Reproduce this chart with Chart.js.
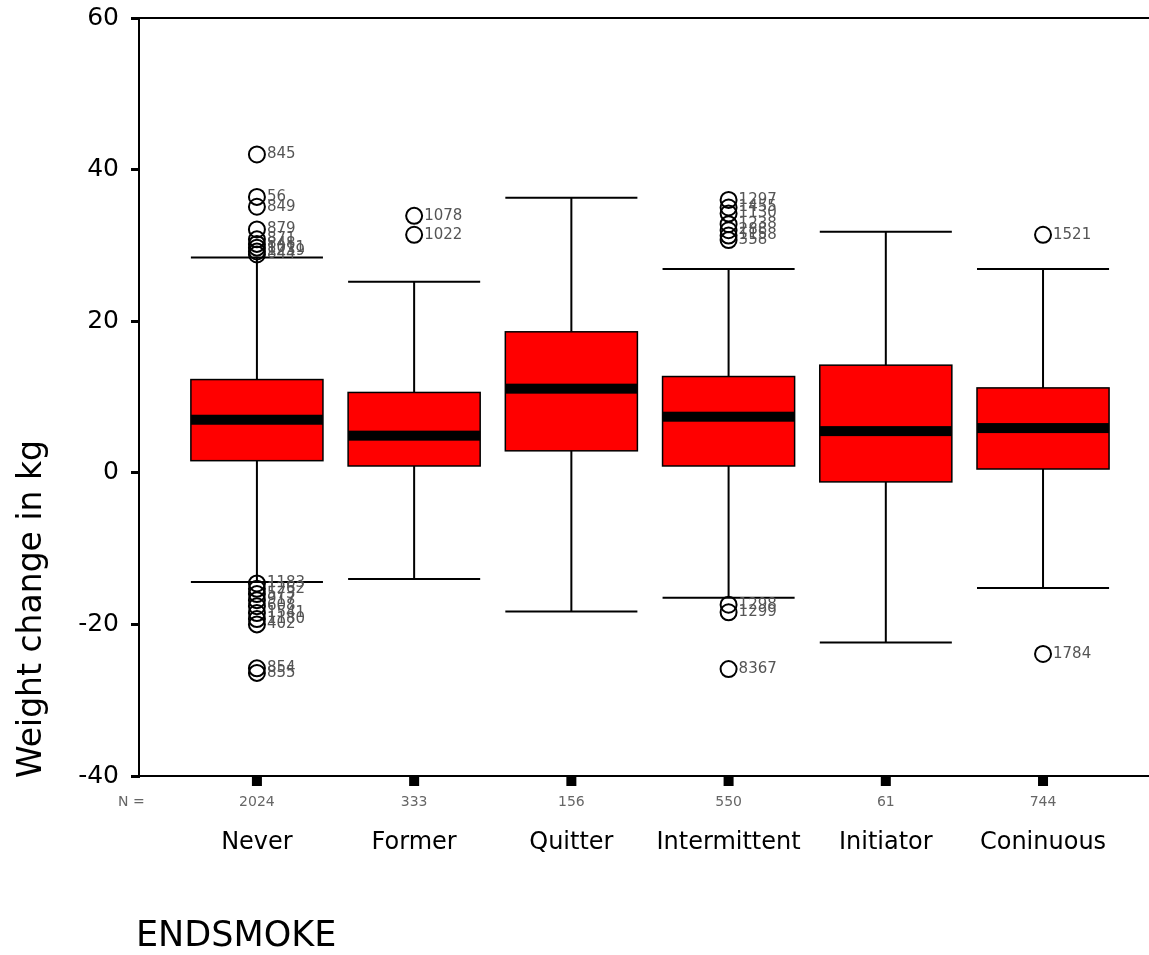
<!DOCTYPE html>
<html>
<head>
<meta charset="utf-8">
<script src="https://cdn.jsdelivr.net/npm/chart.js@4/dist/chart.umd.min.js"></script>
<style>
  html, body { margin: 0; padding: 0; background: #fff; }
  #wrap { width: 1149px; height: 955px; }
</style>
</head>
<body>
<div id="wrap"><canvas id="c" width="1149" height="955"></canvas></div>
<script>
// Weight change by smoking status (ENDSMOKE)
const categories = ['Never', 'Former', 'Quitter', 'Intermittent', 'Initiator', 'Coninuous'];
const groupN = [2024, 333, 156, 550, 61, 744];
const lowerWhisker = [-14.4, -14.0, -18.3, -16.5, -22.4, -15.2];
const q1 = [1.6, 0.9, 2.9, 0.9, -1.2, 0.5];
const median = [7.0, 4.9, 11.1, 7.4, 5.5, 5.9];
const q3 = [12.3, 10.6, 18.6, 12.7, 14.2, 11.2];
const upperWhisker = [28.4, 25.2, 36.3, 26.9, 31.8, 26.9];

// Outlying cases: group index, value, case id
const outlierGroup = [0, 0, 0, 0, 0, 0, 0, 0, 0,
                      0, 0, 0, 0, 0, 0, 0, 0, 0, 0,
                      1, 1,
                      3, 3, 3, 3, 3, 3, 3, 3, 3, 3,
                      5, 5];
const outlierValue = [42.0, 36.4, 35.1, 32.1, 30.8, 30.2, 29.7, 29.2, 28.8,
                      -14.6, -15.3, -16.0, -16.8, -17.6, -18.5, -19.3, -20.0, -25.8, -26.4,
                      33.9, 31.4,
                      36.0, 35.0, 34.2, 32.8, 32.0, 31.3, 30.7, -17.4, -18.4, -25.9,
                      31.4, -23.9];
const outlierId = ['845', '56', '849', '879', '871', '848', '1011', '1239', '844',
                   '1183', '1262', '573', '917', '608', '1541', '1180', '402', '854', '855',
                   '1078', '1022',
                   '1297', '1455', '1130', '1238', '288', '1158', '358', '1298', '1299', '8367',
                   '1521', '1784'];

const yTicks = [-40, -20, 0, 20, 40, 60];

const FONT = '"DejaVu Sans", Verdana, sans-serif';
const HALF_BOX = 0.42;

const outlierPoints = outlierValue.map((v, i) => ({ x: outlierGroup[i], y: v }));

const boxPlugin = {
  id: 'boxDraw',
  beforeDatasetsDraw(chart) {
    const { ctx, scales: { x, y }, chartArea } = chart;
    ctx.save();
    // top frame line
    ctx.strokeStyle = '#000';
    ctx.lineWidth = 2;
    ctx.beginPath();
    ctx.moveTo(chartArea.left, chartArea.top);
    ctx.lineTo(chartArea.right, chartArea.top);
    ctx.stroke();

    categories.forEach((c, i) => {
      const xl = x.getPixelForValue(i - HALF_BOX);
      const xr = x.getPixelForValue(i + HALF_BOX);
      const xc = x.getPixelForValue(i);
      const yUW = y.getPixelForValue(upperWhisker[i]);
      const yLW = y.getPixelForValue(lowerWhisker[i]);
      const yQ1 = y.getPixelForValue(q1[i]);
      const yQ3 = y.getPixelForValue(q3[i]);
      const yMed = y.getPixelForValue(median[i]);

      ctx.strokeStyle = '#000';
      ctx.lineWidth = 2;
      // whiskers
      ctx.beginPath();
      ctx.moveTo(xc, yQ3); ctx.lineTo(xc, yUW);
      ctx.moveTo(xc, yQ1); ctx.lineTo(xc, yLW);
      ctx.moveTo(xl, yUW); ctx.lineTo(xr, yUW);
      ctx.moveTo(xl, yLW); ctx.lineTo(xr, yLW);
      ctx.stroke();

      // box
      ctx.fillStyle = '#ff0000';
      ctx.fillRect(xl, yQ3, xr - xl, yQ1 - yQ3);
      ctx.lineWidth = 1.5;
      ctx.strokeRect(xl, yQ3, xr - xl, yQ1 - yQ3);

      // median
      ctx.fillStyle = '#000';
      ctx.fillRect(xl, yMed - 5, xr - xl, 10);
    });
    ctx.restore();
  },
  afterDatasetsDraw(chart) {
    const { ctx, scales: { x, y }, chartArea } = chart;
    ctx.save();
    // case labels beside outliers
    ctx.fillStyle = '#555';
    ctx.font = '15px ' + FONT;
    ctx.textAlign = 'left';
    ctx.textBaseline = 'middle';
    outlierValue.forEach((v, i) => {
      ctx.fillText(outlierId[i], x.getPixelForValue(outlierGroup[i]) + 10, y.getPixelForValue(v));
    });

    // category tick marks below the axis
    ctx.fillStyle = '#000';
    categories.forEach((c, i) => {
      const xc = x.getPixelForValue(i);
      ctx.fillRect(xc - 5, chartArea.bottom, 10, 10);
    });
    // y axis foot mark
    ctx.fillRect(chartArea.left - 8, chartArea.bottom - 1, 9, 3);

    // N row
    ctx.fillStyle = '#666';
    ctx.font = '14px ' + FONT;
    ctx.textAlign = 'left';
    ctx.fillText('N =', 118, chartArea.bottom + 26);
    ctx.textAlign = 'center';
    groupN.forEach((n, i) => {
      ctx.fillText(String(n), x.getPixelForValue(i), chartArea.bottom + 26);
    });

    // category names
    ctx.fillStyle = '#000';
    ctx.font = '24px ' + FONT;
    categories.forEach((c, i) => {
      ctx.fillText(c, x.getPixelForValue(i), chartArea.bottom + 67);
    });

    // x axis title
    ctx.textAlign = 'left';
    ctx.font = '35px ' + FONT;
    ctx.fillText('ENDSMOKE', 136, 937);

    // y axis title
    ctx.translate(32, 609);
    ctx.rotate(-Math.PI / 2);
    ctx.textAlign = 'center';
    ctx.font = '33px ' + FONT;
    ctx.fillText('Weight change in kg', 0, 0);
    ctx.restore();
  }
};

new Chart(document.getElementById('c'), {
  type: 'scatter',
  data: {
    datasets: [{
      data: outlierPoints,
      pointStyle: 'circle',
      pointRadius: 8,
      pointHoverRadius: 8,
      pointBorderWidth: 2,
      pointBorderColor: '#000',
      pointBackgroundColor: 'rgba(255,255,255,0)',
      clip: false
    }]
  },
  options: {
    responsive: false,
    animation: false,
    devicePixelRatio: 1,
    layout: { autoPadding: false, padding: { top: 18, right: 0, bottom: 0, left: 0 } },
    plugins: { legend: { display: false }, tooltip: { enabled: false } },
    scales: {
      x: {
        type: 'linear',
        min: -0.75,
        max: 5.674,
        ticks: { display: false },
        grid: { display: false, drawTicks: false },
        border: { display: true, color: '#000', width: 2 },
        afterFit(s) { s.height = 179; s.paddingLeft = 0; s.paddingRight = 0; }
      },
      y: {
        type: 'linear',
        min: -40,
        max: 60,
        afterBuildTicks(s) { s.ticks = yTicks.map(v => ({ value: v })); },
        ticks: {
          color: '#000',
          font: { family: FONT, size: 25 },
          padding: 12
        },
        grid: { drawOnChartArea: false, drawTicks: true, tickLength: 8, tickWidth: 3, tickColor: '#000' },
        border: { display: true, color: '#000', width: 2 },
        afterFit(s) { s.width = 139; s.paddingTop = 0; s.paddingBottom = 0; }
      }
    }
  },
  plugins: [boxPlugin]
});
</script>
</body>
</html>
